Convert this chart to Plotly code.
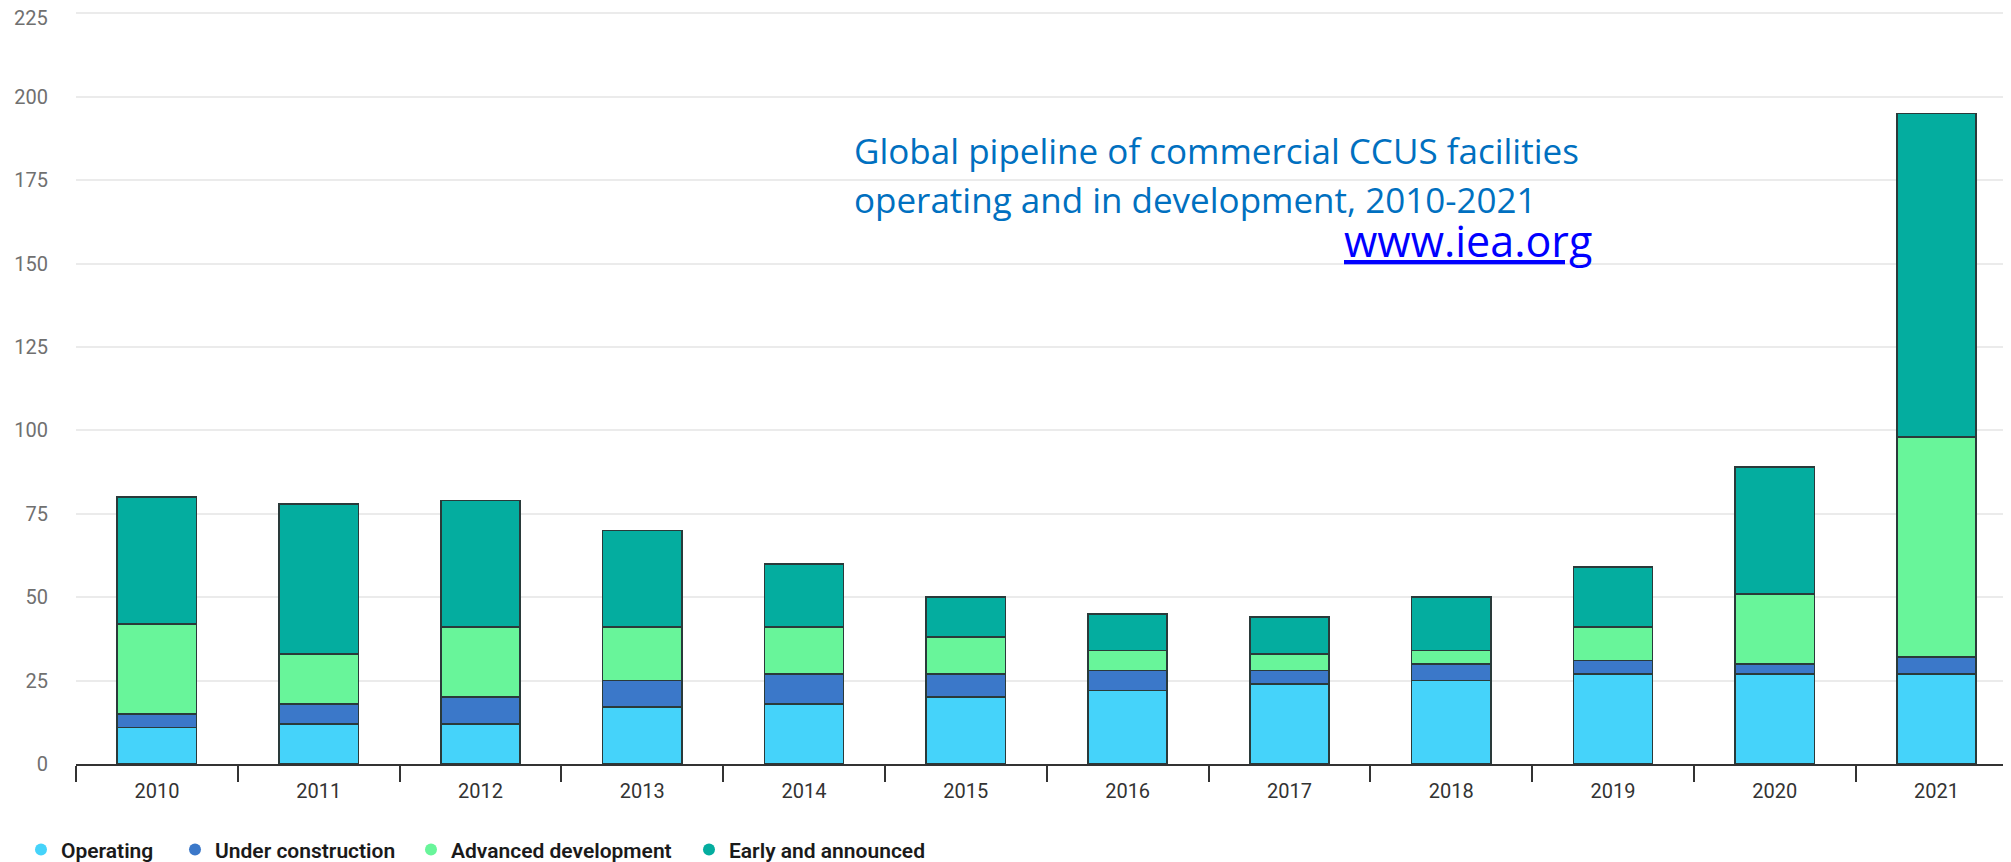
import plotly.graph_objects as go

years = ["2010", "2011", "2012", "2013", "2014", "2015", "2016", "2017", "2018", "2019", "2020", "2021"]
operating = [11, 12, 12, 17, 18, 20, 22, 24, 25, 27, 27, 27]
under_construction = [4, 6, 8, 8, 9, 7, 6, 4, 5, 4, 3, 5]
advanced_development = [27, 15, 21, 16, 14, 11, 6, 5, 4, 10, 21, 66]
early_announced = [38, 45, 38, 29, 19, 12, 11, 11, 16, 18, 38, 97]

series_names = ["Operating", "Under construction", "Advanced development", "Early and announced"]
series_values = [operating, under_construction, advanced_development, early_announced]
series_colors = ["#45D3FA", "#3B78C9", "#68F59A", "#04AD9F"]
y_ticks = [0, 25, 50, 75, 100, 125, 150, 175, 200, 225]

title_lines = ["Global pipeline of commercial CCUS facilities",
               "operating and in development, 2010-2021"]
link_text = "www.iea.org"

# page has an 8px body margin; work in screen pixels
OFF = 8
PLOT_L, PLOT_R, PLOT_T, PLOT_B = 76, 2011, 11.5, 764
W, H = 2011 - OFF, 862 - OFF
L = PLOT_L - OFF
R = W - (PLOT_R - OFF)
T = PLOT_T - OFF
B = H - (PLOT_B - OFF)
pw = PLOT_R - PLOT_L
ph = PLOT_B - PLOT_T


def px_x(x):
    return (x - PLOT_L) / pw


def px_y(y):
    return (PLOT_B - y) / ph


fig = go.Figure()
for name, vals, col in zip(series_names, series_values, series_colors):
    fig.add_trace(go.Bar(
        x=years, y=vals, name=name, marker_color=col,
        marker_line=dict(color="#2a3a3a", width=1.6),
        showlegend=False, width=0.49,
    ))

legend_marker_x = [43, 197, 433, 711]
legend_ids = ["legend", "legend2", "legend3", "legend4"]
legend_layout = {}
for name, col, lid, mx in zip(series_names, series_colors, legend_ids, legend_marker_x):
    fig.add_trace(go.Scatter(
        x=[years[0]], y=[None], mode="markers", name=name,
        marker=dict(color=col, size=12, symbol="circle"),
        showlegend=True, legend=lid,
    ))
    legend_layout[lid] = dict(
        orientation="h", x=px_x(mx - 22), y=px_y(850), xanchor="left", yanchor="middle",
        font=dict(family="Roboto", size=21, color="#1a1a1a", weight=600),
        itemsizing="constant", itemwidth=30,
        bgcolor="rgba(0,0,0,0)",
    )

# top tick label drawn separately so it is not clipped at the page edge
y_ticktext = [str(v) if v != y_ticks[-1] else "" for v in y_ticks]

fig.update_layout(
    width=W, height=H,
    barmode="stack",
    plot_bgcolor="white", paper_bgcolor="white",
    margin=dict(l=L, r=R, t=T, b=B, pad=0, autoexpand=False),
    bargap=0.5,
    xaxis=dict(
        type="category", range=[-0.5, 11.46],
        showline=True, linecolor="#333333", linewidth=2,
        ticks="outside", tickson="boundaries", ticklen=16, tickwidth=1.6, tickcolor="#333333",
        tickfont=dict(family="Roboto", size=20, color="#333333"),
        ticklabelstandoff=8,
        showgrid=False, fixedrange=True, automargin=False,
    ),
    yaxis=dict(
        range=[0, 225.4], tickvals=y_ticks, ticktext=y_ticktext,
        showgrid=True, gridcolor="#ebebeb", gridwidth=1.5,
        zeroline=False, showline=False,
        tickfont=dict(family="Roboto", size=20, color="#707070"),
        ticklabelstandoff=27, automargin=False, ticklabeloverflow="allow",
    ),
    font=dict(family="Roboto"),
    **legend_layout,
)

fig.add_annotation(
    xref="paper", yref="paper", x=0, y=px_y(18), xshift=-26,
    xanchor="right", yanchor="middle",
    text=str(y_ticks[-1]), showarrow=False,
    font=dict(family="Roboto", size=20, color="#707070"),
)

for line, ypx in zip(title_lines, [150, 199]):
    fig.add_annotation(
        xref="paper", yref="paper", x=px_x(852), y=px_y(ypx),
        xanchor="left", yanchor="middle", align="left",
        text=line, showarrow=False,
        font=dict(family="Open Sans", size=35, color="#0070C0"),
    )
fig.add_annotation(
    xref="paper", yref="paper", x=px_x(1594), y=px_y(240),
    xanchor="right", yanchor="middle",
    text="<u>" + link_text + "</u>",
    showarrow=False,
    font=dict(family="Open Sans", size=43, color="#0000FF"),
)

fig.write_html("out.html")
